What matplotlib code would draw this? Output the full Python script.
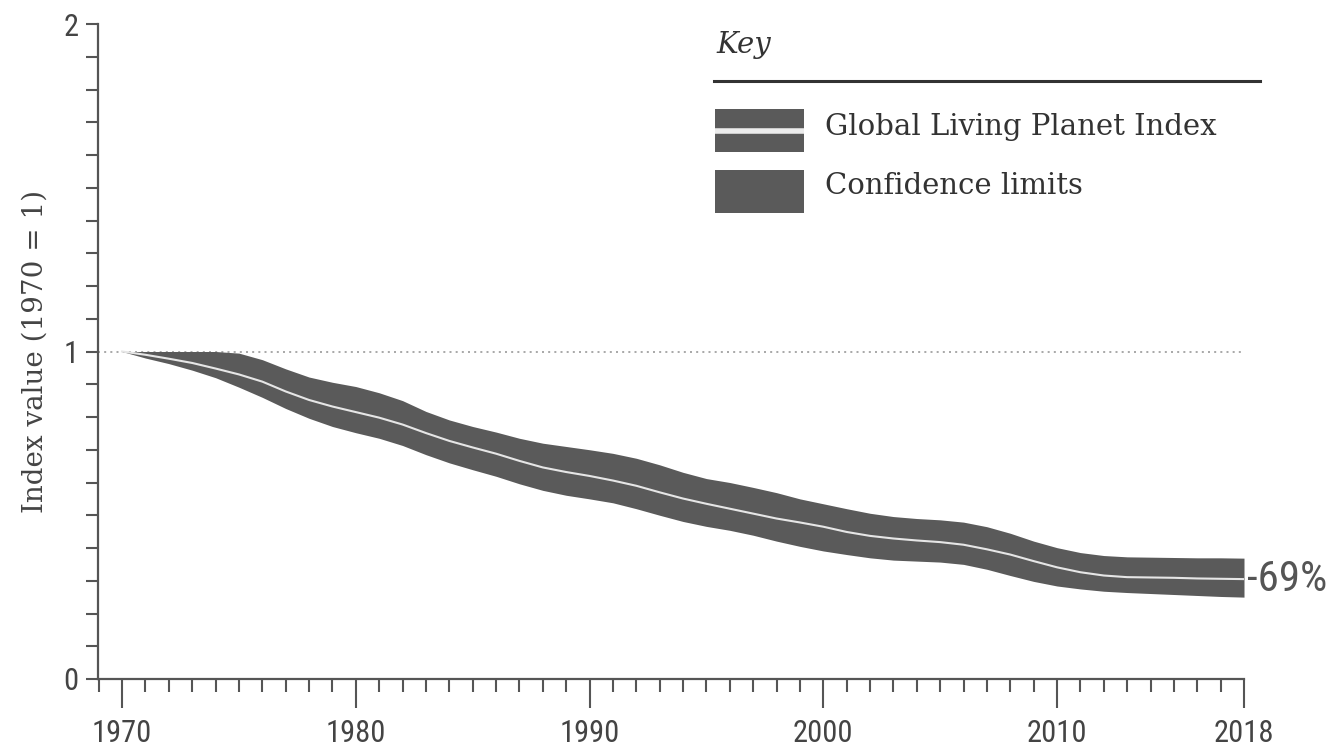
import matplotlib
matplotlib.use("Agg")
import matplotlib.pyplot as plt
from matplotlib.patches import Rectangle
from matplotlib.lines import Line2D
from matplotlib.ticker import MultipleLocator, FixedLocator

years = list(range(1970, 2019))
index_value = [1.00, 0.99, 0.978, 0.965, 0.948, 0.93, 0.908, 0.878, 0.852, 0.832,
               0.815, 0.798, 0.777, 0.751, 0.727, 0.707, 0.688, 0.666, 0.646, 0.632,
               0.62, 0.606, 0.59, 0.57, 0.551, 0.535, 0.52, 0.505, 0.49, 0.478,
               0.465, 0.449, 0.437, 0.429, 0.423, 0.418, 0.41, 0.396, 0.38, 0.36,
               0.341, 0.326, 0.316, 0.311, 0.31, 0.309, 0.307, 0.306, 0.305]
upper_limit = [1.0, 1.0, 1.0, 1.0, 1.0, 0.995, 0.975, 0.947, 0.922, 0.906,
               0.893, 0.874, 0.85, 0.817, 0.791, 0.771, 0.754, 0.735, 0.72, 0.71,
               0.70, 0.689, 0.674, 0.654, 0.631, 0.612, 0.60, 0.585, 0.569, 0.55,
               0.535, 0.52, 0.506, 0.496, 0.49, 0.486, 0.479, 0.465, 0.445, 0.421,
               0.401, 0.386, 0.377, 0.373, 0.372, 0.371, 0.37, 0.37, 0.369]
lower_limit = [1.0, 0.98, 0.963, 0.943, 0.92, 0.891, 0.86, 0.826, 0.796, 0.771,
               0.752, 0.735, 0.713, 0.685, 0.66, 0.639, 0.619, 0.596, 0.576, 0.561,
               0.55, 0.538, 0.52, 0.50, 0.481, 0.466, 0.454, 0.439, 0.421, 0.405,
               0.391, 0.38, 0.37, 0.363, 0.36, 0.357, 0.35, 0.335, 0.316, 0.298,
               0.284, 0.275, 0.268, 0.264, 0.261, 0.258, 0.255, 0.252, 0.25]
x_major = [1970, 1980, 1990, 2000, 2010, 2018]
x_labels = ["1970", "1980", "1990", "2000", "2010", "2018"]
y_major = [0, 1, 2]
y_labels = ["0", "1", "2"]
change_label = "-69%"

W, H = 1334, 749
fig = plt.figure(figsize=(W / 100, H / 100), dpi=100)
fig.patch.set_facecolor("white")

ax_left, ax_right, ax_bottom, ax_top = 98, 1244, 679, 24
ax = fig.add_axes([ax_left / W, 1 - ax_bottom / H, (ax_right - ax_left) / W,
                   (ax_bottom - ax_top) / H])
ax.set_facecolor("white")

band_color = "#5a5a5a"
axis_color = "#555555"
tick_font = ["Liberation Sans Narrow", "Roboto Condensed", "Roboto", "DejaVu Sans"]
serif_font = ["DejaVu Serif"]

ax.set_xlim(1968.97, 2018)
ax.set_ylim(0, 2)

ax.axhline(1, color="#9a9a9a", lw=1.2, ls=(0, (1.2, 2.5)), zorder=1)
ax.fill_between(years, lower_limit, upper_limit, color=band_color, lw=0, zorder=2)
ax.plot(years, index_value, color="#e6e6e6", lw=1.5, zorder=3)

for s in ["top", "right"]:
    ax.spines[s].set_visible(False)
for s in ["left", "bottom"]:
    ax.spines[s].set_color(axis_color)
    ax.spines[s].set_linewidth(1.6)

ax.xaxis.set_major_locator(FixedLocator(x_major))
ax.set_xticklabels(x_labels)
ax.xaxis.set_minor_locator(MultipleLocator(1))
ax.yaxis.set_major_locator(FixedLocator(y_major))
ax.set_yticklabels(y_labels)
ax.yaxis.set_minor_locator(MultipleLocator(0.1))

ax.tick_params(axis="x", which="major", length=21, width=1.5, color=axis_color,
               direction="out", pad=8, labelsize=22, labelcolor="#444444")
ax.tick_params(axis="x", which="minor", length=9, width=1.5, color=axis_color,
               direction="out")
ax.tick_params(axis="y", which="both", length=9, width=1.5, color=axis_color,
               direction="out", pad=5, labelsize=22, labelcolor="#444444")
for lbl in ax.get_xticklabels() + ax.get_yticklabels():
    lbl.set_family(tick_font)
    lbl.set_stretch("condensed")

ax.set_ylabel("Index value (1970 = 1)", family=serif_font, fontsize=20,
              color="#444444")
ax.yaxis.set_label_coords(-0.043, 0.5)

# end annotation
ax.annotate(change_label, xy=(years[-1], index_value[-1]), xytext=(2, 0),
            textcoords="offset points", ha="left", va="center",
            fontsize=31, color="#555555", family=tick_font, stretch="condensed")

# key / legend
def fx(px):
    return px / W

def fy(py):
    return 1 - py / H

fig.text(fx(716), fy(45), "Key", family=serif_font, style="italic",
         fontsize=21, color="#333333", ha="left", va="center")
fig.add_artist(Line2D([fx(714), fx(1260)], [fy(81), fy(81)], color="#333333",
                      lw=2.2, transform=fig.transFigure))
fig.add_artist(Rectangle((fx(715), fy(152)), fx(804) - fx(715),
                         fy(109) - fy(152), color=band_color, lw=0,
                         transform=fig.transFigure))
fig.add_artist(Line2D([fx(715), fx(804)], [fy(130.5), fy(130.5)],
                      color="#ececec", lw=4, solid_capstyle="butt",
                      transform=fig.transFigure))
fig.add_artist(Rectangle((fx(715), fy(213)), fx(804) - fx(715),
                         fy(170) - fy(213), color=band_color, lw=0,
                         transform=fig.transFigure))
fig.text(fx(825), fy(127), "Global Living Planet Index", family=serif_font,
         fontsize=21, color="#333333", ha="left", va="center")
fig.text(fx(825), fy(186), "Confidence limits", family=serif_font,
         fontsize=21, color="#333333", ha="left", va="center")

fig.savefig("out.png", dpi=100, facecolor="white")
